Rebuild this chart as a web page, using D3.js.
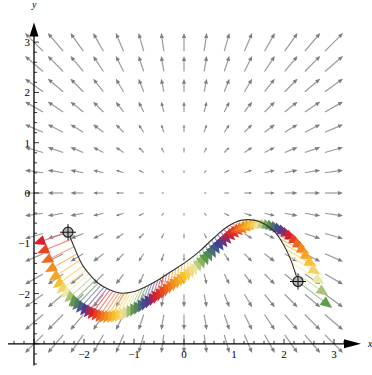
<!DOCTYPE html>
<html>
<head>
<meta charset="utf-8">
<script src="https://cdn.jsdelivr.net/npm/d3@7"></script>
<style>
body{margin:0;background:#fff}
svg{display:block}
</style>
</head>
<body>
<script>
// grid of the vector field F(x,y) = (x,y)
const gridX = [-3,-2.571,-2.143,-1.714,-1.286,-0.857,-0.429,0,0.429,0.857,1.286,1.714,2.143,2.571,3];
const gridY = [-3,-2.571,-2.143,-1.714,-1.286,-0.857,-0.429,0,0.429,0.857,1.286,1.714,2.143,2.571,3];
const xTicks = [-2,-1,0,1,2,3];
const yTicks = [-2,-1,0,1,2,3];
// path
const curveX = [-2.32,-2.24,-2.14,-2.02,-1.88,-1.72,-1.52,-1.28,-1.04,-0.78,-0.52,-0.24,0.04,0.32,0.60,0.88,1.16,1.40,1.62,1.82,1.98,2.12,2.20,2.28];
const curveY = [-0.78,-0.97,-1.21,-1.45,-1.63,-1.79,-1.91,-1.99,-1.97,-1.87,-1.73,-1.55,-1.37,-1.15,-0.89,-0.66,-0.54,-0.54,-0.62,-0.78,-1.01,-1.29,-1.51,-1.76];
// x where the colour cycle is back at red
const redAt = [-2.32,-1.48,-0.45,0.82,1.75,2.58];
const arrowCount = 78;

const w = 372, h = 375;
const x = d3.scaleLinear().domain([-3.5,3.5]).range([9,359]);
const y = d3.scaleLinear().domain([-3.5,3.5]).range([369,17]);

const svg = d3.select("body").append("svg").attr("width",w).attr("height",h);

function head(tx,ty,ang,len,half){
  const c=Math.cos(ang), s=Math.sin(ang);
  const bx=tx-c*len, by=ty-s*len;
  return `M${tx},${ty}L${bx-s*half},${by+c*half}L${bx+s*half},${by-c*half}Z`;
}

// vector field
const field = [];
gridX.forEach(gx=>gridY.forEach(gy=>field.push([gx,gy])));
const gField = svg.append("g");
field.forEach(d=>{
  const k = 0.06; // half arrow, in plot units per unit of F
  const x0=x(d[0]-d[0]*k), y0=y(d[1]-d[1]*k), x1=x(d[0]+d[0]*k), y1=y(d[1]+d[1]*k);
  const len=Math.hypot(x1-x0,y1-y0);
  if(len<0.5) return;
  const ang=Math.atan2(y1-y0,x1-x0);
  const hl=Math.min(5,len*0.4);
  gField.append("line").attr("x1",x0).attr("y1",y0)
    .attr("x2",x1-Math.cos(ang)*hl*0.7).attr("y2",y1-Math.sin(ang)*hl*0.7)
    .attr("stroke","#9a9a9a").attr("stroke-width",1.2);
  gField.append("path").attr("d",head(x1,y1,ang,hl,hl*0.42)).attr("fill","#7e7e7e");
});

// axes
const ax = svg.append("g").attr("stroke","#000").attr("fill","none");
ax.append("line").attr("x1",x(-3.52)).attr("x2",x(3.4)).attr("y1",y(-3)).attr("y2",y(-3)).attr("stroke-width",1.3);
ax.append("line").attr("y1",y(-3.43)).attr("y2",y(3.25)).attr("x1",x(-3)).attr("x2",x(-3)).attr("stroke-width",1.3);
svg.append("path").attr("d",head(x(3.54),y(-3),0,17,4.5)).attr("fill","#000");
svg.append("path").attr("d",head(x(-3),y(3.39),-Math.PI/2,14,4.5)).attr("fill","#000");

const minor = d3.range(-34,35).map(v=>v/10).filter(v=>Math.abs(v*5-Math.round(v*5))<1e-6 && v>-3.45 && v<3.45);
minor.forEach(v=>{
  const major = Math.abs(v-Math.round(v))<1e-6;
  const tl = major?5:3;
  if(v<3.3) ax.append("line").attr("x1",x(v)).attr("x2",x(v)).attr("y1",y(-3)).attr("y2",y(-3)-tl).attr("stroke-width",0.8);
  if(v<3.3) ax.append("line").attr("y1",y(v)).attr("y2",y(v)).attr("x1",x(-3)).attr("x2",x(-3)+tl).attr("stroke-width",0.8);
});
const lab = svg.append("g").attr("font-family","'Liberation Serif',serif").attr("font-size",11).attr("fill","#000");
xTicks.forEach(v=>lab.append("text").attr("x",x(v)).attr("y",y(-3)+14).attr("text-anchor","middle").text(v<0?"\u2212"+(-v):v));
yTicks.forEach(v=>lab.append("text").attr("x",x(-3)-4).attr("y",y(v)+4).attr("text-anchor","end").text(v<0?"\u2212"+(-v):v));
lab.append("text").attr("x",368).attr("y",y(-3)+3).attr("font-style","italic").attr("font-size",10).text("x");
lab.append("text").attr("x",x(-3)-2).attr("y",8).attr("font-style","italic").attr("font-size",10).text("y");

// path
const line = d3.line().x(d=>x(d[0])).y(d=>y(d[1])).curve(d3.curveCatmullRom);
const pathNode = svg.append("path").datum(d3.zip(curveX,curveY)).attr("d",line)
  .attr("fill","none").attr("stroke","none").node();
const total = pathNode.getTotalLength();
const samples = d3.range(0,total+0.25,0.25).map(l=>pathNode.getPointAtLength(l));

const colors = ["#de1d2b","#f07e1e","#f6c42c","#efe7a6","#5d9c46","#3c3f9e","#de1d2b"];
const cyc = d3.scaleLinear().domain([0,0.18,0.36,0.5,0.64,0.84,1]).range(colors).interpolate(d3.interpolateRgb);
function colorAt(v){
  const i = Math.max(0,Math.min(redAt.length-2,d3.bisectRight(redAt,v)-1));
  return cyc((v-redAt[i])/(redAt[i+1]-redAt[i]));
}

const gShaft = svg.append("g"), gHead = svg.append("g");
const x0 = curveX[0], x1 = curveX[curveX.length-1];
for(let i=0;i<arrowCount;i++){
  const tx = x(x0+(x1-x0)*i/(arrowCount-1));
  let p = samples.find(s=>s.x>=tx-0.01) || samples[samples.length-1];
  const bx = x.invert(p.x), by = y.invert(p.y);
  const vx = bx*0.3, vy = by*0.3;
  const sx=p.x, sy=p.y, ex=x(bx+vx), ey=y(by+vy);
  const ang=Math.atan2(ey-sy,ex-sx);
  const c = colorAt(bx);
  gShaft.append("line").attr("x1",sx).attr("y1",sy)
    .attr("x2",ex-Math.cos(ang)*8).attr("y2",ey-Math.sin(ang)*8)
    .attr("stroke",d3.interpolateRgb(c,"#fff")(0.4)).attr("stroke-width",1.1);
  gHead.append("path").attr("d",head(ex,ey,ang,12,5.2)).attr("fill",c);
}

svg.append("path").datum(d3.zip(curveX,curveY)).attr("d",line)
  .attr("fill","none").attr("stroke","#333").attr("stroke-width",1.1);

const endPoints = [[curveX[0],curveY[0]],[x1,curveY[curveY.length-1]]];
endPoints.forEach(d=>{
  const g = svg.append("g").attr("transform",`translate(${x(d[0])},${y(d[1])})`);
  g.append("circle").attr("r",5).attr("fill","#b8b8b8").attr("stroke","#222").attr("stroke-width",1.2);
  g.append("line").attr("x1",-8).attr("x2",8).attr("stroke","#111").attr("stroke-width",1);
  g.append("line").attr("y1",-8).attr("y2",8).attr("stroke","#111").attr("stroke-width",1);
});
</script>
</body>
</html>
